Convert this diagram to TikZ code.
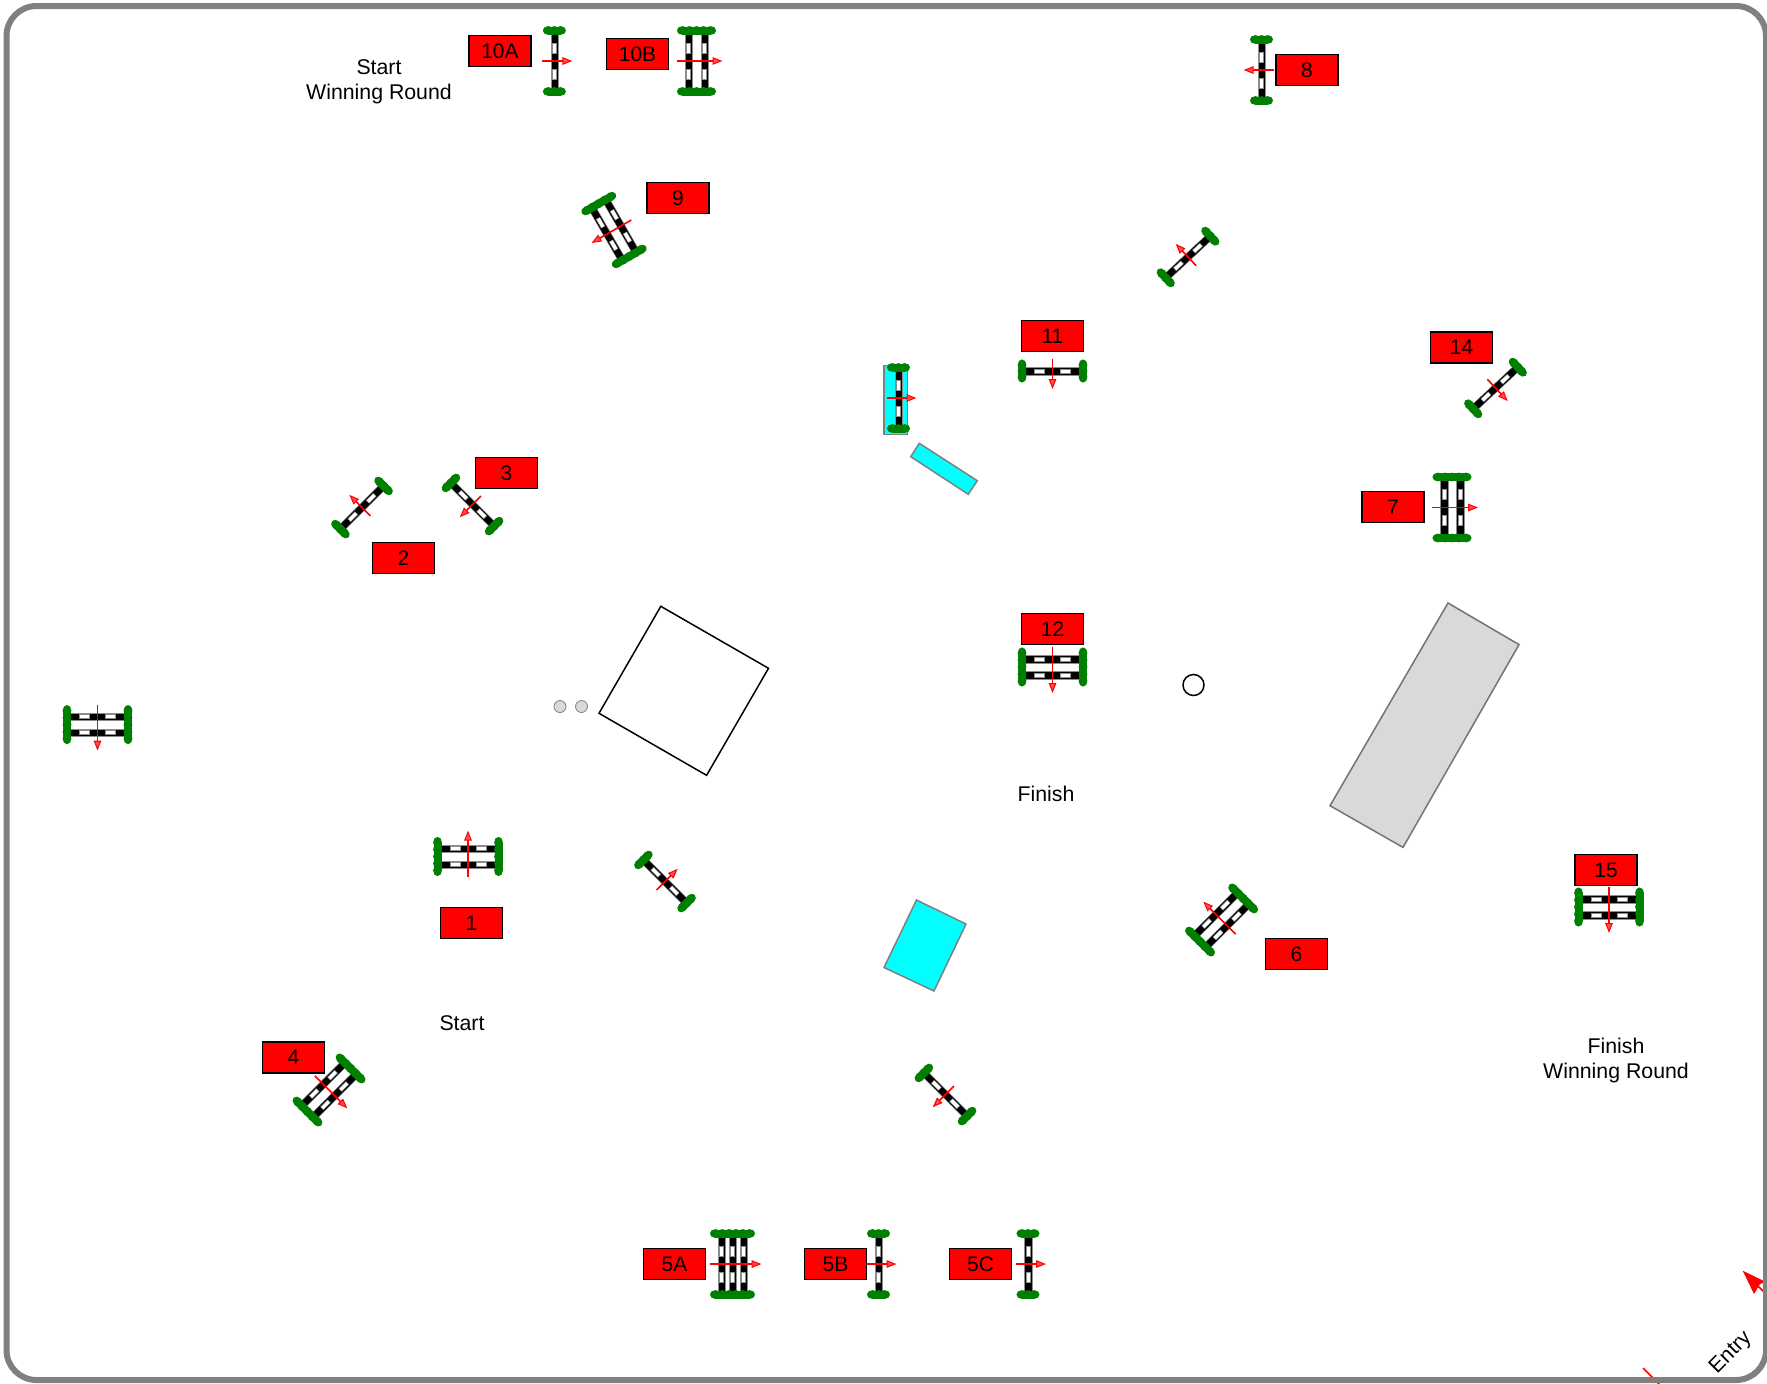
\documentclass[tikz,border=0pt]{standalone}
\usepackage{fontspec}
\setmainfont{Liberation Sans}
\definecolor{leafgreen}{RGB}{0,128,0}
\definecolor{pool}{RGB}{0,255,255}
\tikzset{
  tag/.style={draw=black,fill=red,line width=1.5pt,minimum width=62pt,minimum height=31pt,inner sep=0pt,text=black,font=\fontsize{21}{25}\selectfont},
  caption/.style={align=center,inner sep=0pt,text=black,font=\fontsize{21.3}{25}\selectfont},
  water/.style={draw=black!50,fill=pool,line width=1.5pt,line join=miter},
  railbar/.style={draw=black!45,line width=0.4pt,fill=black},
  slot/.style={fill=white,draw=black!45,line width=0.4pt},
  hedge/.style={draw=leafgreen,line width=8pt},
  pointer/.style={draw=red,line width=1.6pt},
  pointerhead/.style={draw=red,fill=red!70,line width=1pt,line join=miter}
}
\newcommand{\fenceat}[6]{% x,y,rotation,rail offsets,half span,number of blob steps
  \begin{scope}[shift={(#1,#2)},rotate=#3]
    \foreach \o in {#4}{
      \filldraw[railbar] (\o-3.7,-28) rectangle (\o+3.7,28);
      \foreach \a/\b in {-18/-8,8/18}{
        \filldraw[slot] (\o-2,\a) rectangle (\o+2,\b);
      }
    }
    \pgfmathsetmacro{\hs}{#5+6}
    \draw[hedge] (-\hs,-30.5) -- (\hs,-30.5);
    \draw[hedge] (-\hs,30.5) -- (\hs,30.5);
    \foreach \i in {0,...,#6}{
      \pgfmathsetmacro{\p}{-\hs+\i*2*\hs/#6}
      \fill[leafgreen] (\p,-30.5) ellipse [x radius=5.6,y radius=4.4];
      \fill[leafgreen] (\p,30.5) ellipse [x radius=5.6,y radius=4.4];
    }
    \pgfmathsetmacro{\ta}{-(#5+12)}
    \pgfmathsetmacro{\tb}{#5+8.5}
    \pgfmathsetmacro{\tc}{#5+16.5}
    \draw[pointer] (\ta,0) -- (\tb,0);
    \filldraw[pointerhead] (\tb,-3.2) -- (\tc,0) -- (\tb,3.2) -- cycle;
  \end{scope}
}
\begin{document}
\begin{tikzpicture}[x=1pt,y=-1pt]
\clip (0,0) rectangle (1767,1384);
\fill[white] (0,0) rectangle (1767,1384);

% obstacles
\filldraw[draw=black,fill=white,line width=1.5pt,line join=miter] (660.8,606.3) -- (768.5,668.3) -- (706.6,775.3) -- (599,713.3) -- cycle;
\filldraw[draw=black!55,fill=black!15,line width=1.5pt,line join=miter] (1448,603) -- (1519,644.6) -- (1403,847.4) -- (1330,805.7) -- cycle;
\filldraw[water] (916.5,900) -- (966,924) -- (934,991) -- (884,967.5) -- cycle;
\filldraw[water] (919.3,443.3) -- (977.3,480.7) -- (968.3,494.3) -- (910.7,456.7) -- cycle;
\filldraw[water] (884,365.7) rectangle (907.3,434.7);
\filldraw[draw=black,fill=white,line width=1.5pt] (1193.5,685) circle [radius=10.5];
\filldraw[draw=black!50,fill=black!15,line width=0.8pt] (560,706.5) circle [radius=6];
\filldraw[draw=black!50,fill=black!15,line width=0.8pt] (581.5,706.5) circle [radius=6];

% fences
\fenceat{554.4}{61}{0}{0}{0}{2}
\fenceat{696.5}{61}{0}{-8,8}{8}{4}
\fenceat{1261.5}{70}{180}{0}{0}{2}
\fenceat{614}{230}{210}{-8,8}{8}{4}
\fenceat{1188}{257}{133}{0}{0}{2}
\fenceat{1052.5}{371}{270}{0}{0}{2}
\fenceat{1495.5}{388}{-47}{0}{0}{2}
\fenceat{898.5}{398}{0}{0}{0}{2}
\fenceat{1452}{507.5}{0}{-8,8}{8}{4}
\fenceat{362}{507.5}{135}{0}{0}{2}
\fenceat{472.5}{504.5}{225}{0}{0}{2}
\fenceat{1052.5}{667}{270}{-8,8}{8}{4}
\fenceat{97.5}{724.6}{270}{-8,8}{8}{4}
\fenceat{468}{856.5}{90}{-8,8}{8}{4}
\fenceat{665}{881.5}{45}{0}{0}{2}
\fenceat{1609}{907}{270}{-8,8}{8}{4}
\fenceat{1221.6}{920}{135}{-8,8}{8}{4}
\fenceat{329}{1090}{-45}{-8,8}{8}{4}
\fenceat{945.5}{1094.5}{225}{0}{0}{2}
\fenceat{732.5}{1264}{0}{-11,0,11}{11}{5}
\fenceat{878.5}{1264}{0}{0}{0}{2}
\fenceat{1028}{1264}{0}{0}{0}{2}

% number tags
\node[tag] (t10a) at (500,51) {10A};
\node[tag] (t10b) at (637.5,54) {10B};
\node[tag] (t8) at (1307,70) {8};
\node[tag] (t9) at (678,198) {9};
\node[tag] (t11) at (1052.5,336) {11};
\node[tag] (t14) at (1461.5,347.5) {14};
\node[tag] (t3) at (506.5,473) {3};
\node[tag] (t2) at (403.5,558) {2};
\node[tag] (t7) at (1393,507) {7};
\node[tag] (t12) at (1052.5,629) {12};
\node[tag] (t1) at (471.5,923) {1};
\node[tag] (t15) at (1606,870) {15};
\node[tag] (t6) at (1296.5,954) {6};
\node[tag] (t4) at (293.5,1057.5) {4};
\node[tag] (t5a) at (674.5,1264) {5A};
\node[tag] (t5b) at (835.5,1264) {5B};
\node[tag] (t5c) at (980.5,1264) {5C};

% captions
\node[caption] (startw) at (379,81.5) {Start\\Winning Round};
\node[caption] (start) at (462,1023) {Start};
\node[caption] (finish) at (1046,794) {Finish};
\node[caption] (finishw) at (1616,1060.5) {Finish\\Winning Round};
\node[caption,rotate=45] (entry) at (1731,1353) {Entry};

% entry arrow and exit mark
\coordinate (arrowend) at (1772,1300);
\coordinate (arrowtip) at (1742.7,1270.7);
\draw[red,line width=1.6pt] (arrowend) -- (1758,1286);
\fill[red] (arrowtip) -- (1766,1282) -- (1760,1284) -- (1754,1294) -- cycle;
\coordinate (exita) at (1643,1368);
\coordinate (exitb) at (1660,1385);
\draw[red,line width=1.6pt] (exita) -- (exitb);

% border
\draw[draw=black!50,line width=6pt] (6.5,6) [rounded corners=30pt] -- (1766,6) -- (1766,1380) -- (6.5,1380) -- cycle;
\end{tikzpicture}
\end{document}
